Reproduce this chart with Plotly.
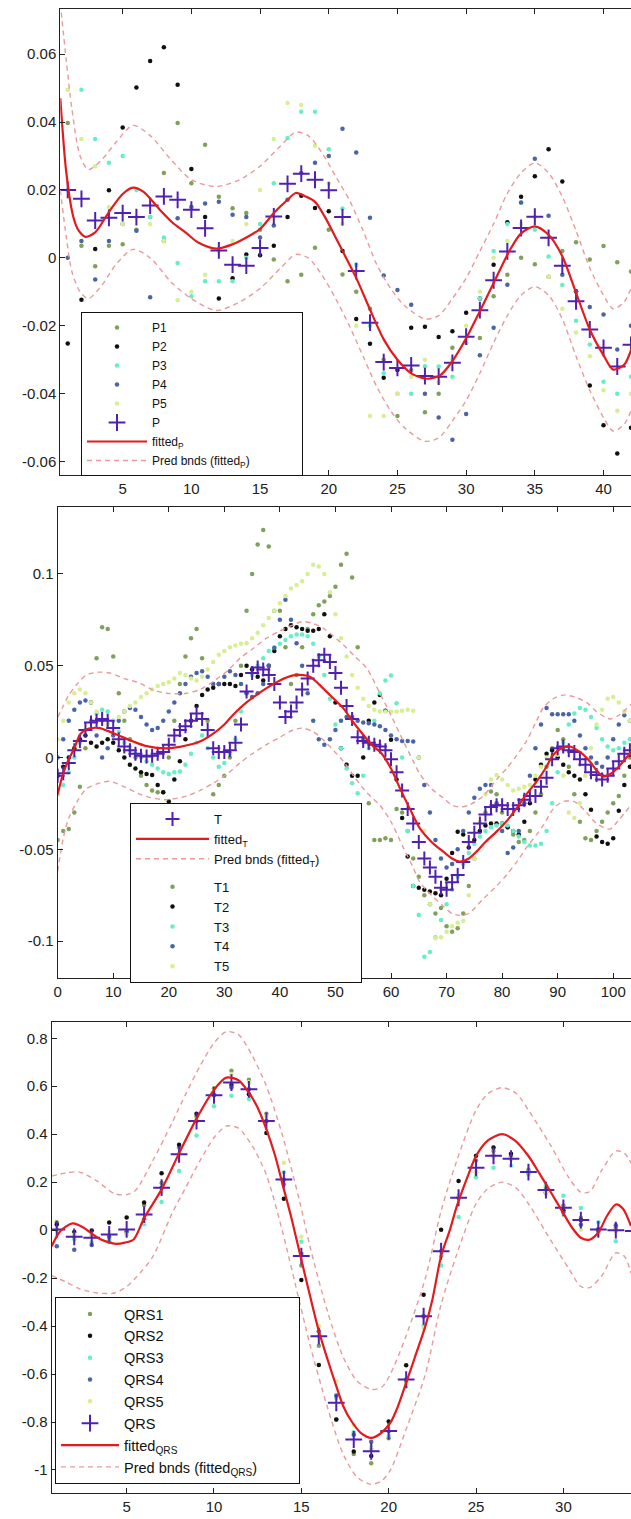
import plotly.graph_objects as go

W, H = 631, 1519

# ---------------- Panel 1 : P ----------------
P_x = list(range(1, 43))
P1 = [0.0397, 0.0036, -0.0025, 0.0036, 0.004, 0.0083, 0.012, 0.025, 0.0397, 0.022,
      0.0333, 0.018, 0.0146, 0.0132, 0.0083, -0.0005, -0.0069, -0.005, 0.003, 0.0083,
      -0.0049, -0.010, -0.015, -0.030, -0.0466, -0.033, -0.0455, -0.040, -0.0265, -0.025,
      -0.0236, -0.0113, -0.005, 0.0, -0.0019, -0.0056, 0.002, 0.0046, -0.0005, 0.0035,
      -0.0013, -0.004]
P2 = [-0.0252, -0.0123, 0.0026, 0.0199, 0.0384, 0.0502, 0.058, 0.062, 0.051, 0.0262,
      0.012, -0.012, -0.006, 0.001, 0.0008, 0.0036, 0.012, 0.0183, 0.0147, 0.0137,
      0.002, -0.018, -0.0253, -0.0353, -0.033, -0.0206, -0.0203, -0.0233, -0.0216, -0.0162,
      -0.012, -0.002, 0.0105, 0.018, 0.024, 0.032, 0.0225, -0.0098, -0.0376, -0.0493,
      -0.0576, -0.050]
P3 = [0.020, 0.0495, 0.035, 0.028, 0.030, 0.020, 0.012, 0.006, -0.0015, -0.0113,
      -0.0069, -0.0069, -0.0069, 0.0, 0.010, 0.022, 0.0353, 0.043, 0.043, 0.032,
      0.0145, -0.002, -0.020, -0.034, -0.040, -0.040, -0.0319, -0.032, -0.035, -0.025,
      -0.012, 0.002, 0.010, 0.0162, 0.0083, 0.0004, -0.008, -0.0185, -0.0255, -0.0365,
      -0.040, -0.035]
P4 = [0.0, 0.005, -0.0064, 0.005, 0.010, 0.008, -0.0116, 0.005, 0.0117, 0.015,
      0.016, 0.0165, 0.0127, 0.012, 0.006, 0.0095, 0.0171, 0.025, 0.028, 0.030,
      0.038, 0.031, 0.0118, -0.0052, -0.0095, -0.0138, -0.040, -0.047, -0.0536, -0.046,
      -0.0287, -0.0206, -0.0079, 0.0163, 0.0292, 0.0124, -0.005, -0.010, -0.0145, -0.0167,
      -0.027, -0.020]
P5 = [0.0495, 0.035, 0.027, 0.015, 0.010, 0.012, 0.010, 0.005, -0.0125, -0.010,
      -0.005, 0.002, 0.005, 0.010, 0.020, 0.035, 0.0456, 0.045, 0.033, 0.022,
      0.010, -0.020, -0.0466, -0.0466, -0.040, -0.035, -0.030, -0.0366, -0.030, -0.020,
      -0.010, 0.0, 0.005, 0.010, 0.012, -0.0056, -0.015, -0.022, -0.029, -0.039,
      -0.045, -0.040]
P_mean = [0.020, 0.0174, 0.011, 0.0118, 0.0132, 0.012, 0.0154, 0.0181, 0.0171, 0.0142,
          0.0087, 0.0022, -0.002, -0.0023, 0.0029, 0.0122, 0.0218, 0.0248, 0.023, 0.0199,
          0.012, -0.0039, -0.0191, -0.0307, -0.0324, -0.0317, -0.0348, -0.035, -0.0309, -0.0232,
          -0.0154, -0.0066, 0.0019, 0.0088, 0.0121, 0.0059, -0.0023, -0.0128, -0.0211, -0.0265,
          -0.032, -0.0256]
fitP_x = [0.46, 0.9, 1.4, 1.8, 2.3, 3.0, 4.0, 5.0, 5.75, 6.5, 7.7, 8.6, 9.6, 10.5, 11.8,
          13.0, 14.0, 15.0, 16.0, 17.0, 17.6, 18.3, 19.0, 19.7, 20.5, 21.2, 22.0, 23.0, 24.0,
          25.0, 26.0, 27.1, 28.1, 29.0, 30.0, 31.0, 32.0, 33.2, 34.0, 35.0, 36.0, 37.0, 38.0,
          39.0, 40.0, 40.7, 41.5, 42.1]
fitP_y = [0.047, 0.025, 0.0122, 0.008, 0.0062, 0.0075, 0.0135, 0.0188, 0.0207, 0.0195,
          0.0142, 0.0105, 0.0074, 0.0045, 0.0027, 0.004, 0.006, 0.0085, 0.0132, 0.0171,
          0.0191, 0.0181, 0.0165, 0.0122, 0.006, 0.0005, -0.0059, -0.0152, -0.024, -0.030,
          -0.034, -0.0356, -0.0346, -0.0304, -0.0237, -0.0157, -0.0074, 0.0024, 0.0072, 0.0093,
          0.0068, 0.0005, -0.0103, -0.0211, -0.0287, -0.0329, -0.0315, -0.026]
bndP_x = [0.46, 0.9, 1.3, 1.9, 2.5, 3.5, 4.5, 5.75, 7.0, 8.5, 10.0, 11.8, 13.5, 15.0, 16.5,
          17.6, 18.5, 19.5, 20.5, 21.5, 22.5, 23.5, 24.5, 25.5, 27.0, 28.0, 29.0, 30.0, 31.0,
          32.0, 33.0, 34.0, 35.0, 36.0, 37.0, 38.0, 39.0, 40.0, 40.7, 41.5, 42.1]
bndP_up = [0.075, 0.058, 0.044, 0.030, 0.026, 0.029, 0.034, 0.039, 0.036, 0.029, 0.023,
           0.021, 0.023, 0.027, 0.033, 0.037, 0.036, 0.031, 0.024, 0.017, 0.008, -0.002,
           -0.009, -0.014, -0.018, -0.017, -0.012, -0.006, 0.002, 0.010, 0.019, 0.025, 0.028,
           0.025, 0.018, 0.008, -0.003, -0.011, -0.015, -0.013, -0.008]
bndP_lo = [0.020, 0.006, -0.004, -0.010, -0.012, -0.008, -0.002, 0.0025, 0.0, -0.007, -0.012,
           -0.0155, -0.013, -0.009, -0.003, 0.001, 0.0, -0.005, -0.012, -0.020, -0.029, -0.038,
           -0.045, -0.050, -0.054, -0.053, -0.048, -0.042, -0.034, -0.025, -0.017, -0.011,
           -0.0085, -0.011, -0.018, -0.029, -0.039, -0.047, -0.051, -0.049, -0.044]

# ---------------- Panel 2 : T ----------------
T_x = list(range(0, 104))
T1 = [-0.045, -0.040, -0.039, -0.030, -0.016, 0.005, 0.030, 0.054, 0.071, 0.070,
      0.055, 0.035, 0.020, 0.010, 0.000, -0.010, -0.015, -0.018, -0.019, -0.019,
      0.000, 0.020, 0.040, 0.055, 0.065, 0.070, 0.054, 0.020, -0.020, -0.015,
      -0.010, 0.000, 0.020, 0.050, 0.080, 0.100, 0.116, 0.124, 0.115, 0.080,
      0.080, 0.060, 0.040, 0.045, 0.060, 0.070, 0.078, 0.083, 0.085, 0.088,
      0.093, 0.105, 0.111, 0.098, 0.060, 0.010, -0.025, -0.045, -0.045, -0.044,
      -0.045, -0.028, -0.030, -0.040, -0.055, -0.065, -0.075, -0.080, -0.085, -0.082,
      -0.092, -0.095, -0.093, -0.085, -0.070, -0.055, -0.040, -0.030, -0.0185, -0.020,
      -0.030, -0.038, -0.042, -0.046, -0.045, -0.040, -0.030, -0.020, -0.005, 0.005,
      0.015, 0.010, -0.005, -0.020, -0.035, -0.044, -0.045, -0.040, -0.035, -0.030,
      -0.025, -0.021, -0.010, 0.000]
T2 = [-0.010, -0.005, 0.000, 0.005, 0.010, 0.012, 0.008, 0.006, 0.008, 0.010,
      0.008, 0.004, 0.000, -0.004, -0.006, -0.008, -0.009, -0.0095, -0.015, -0.019,
      -0.024, -0.012, -0.002, 0.010, 0.020, 0.028, 0.034, 0.037, 0.038, 0.040,
      0.040, 0.040, 0.039, 0.045, 0.050, 0.048, 0.044, 0.042, 0.050, 0.058,
      0.066, 0.070, 0.072, 0.071, 0.070, 0.069, 0.069, 0.070, 0.078, 0.066,
      0.030, 0.005, -0.004, -0.010, -0.010, 0.000, 0.020, 0.030, 0.034, 0.0255,
      0.0096, -0.012, -0.033, -0.054, -0.070, -0.071, -0.072, -0.073, -0.074, -0.075,
      -0.066, -0.052, -0.0404, -0.042, -0.049, -0.045, -0.040, -0.037, -0.036, -0.036,
      -0.036, -0.038, -0.040, -0.042, -0.035, -0.025, -0.012, -0.004, 0.002, 0.004,
      0.000, -0.004, -0.008, -0.010, -0.012, -0.020, -0.0285, -0.043, -0.046, -0.047,
      -0.044, -0.029, -0.015, -0.005]
T3 = [-0.020, -0.015, -0.008, 0.000, 0.008, 0.015, 0.020, 0.024, 0.026, 0.025,
      0.020, 0.014, 0.008, 0.004, 0.002, 0.000, -0.002, -0.004, -0.006, -0.008,
      -0.009, -0.008, -0.0076, -0.004, 0.002, 0.008, 0.012, 0.005, 0.000, -0.005,
      -0.003, 0.002, 0.010, 0.025, 0.035, 0.045, 0.050, 0.054, 0.058, 0.060,
      0.062, 0.064, 0.066, 0.067, 0.067, 0.066, 0.062, 0.055, 0.045, 0.032,
      0.018, 0.005, -0.006, -0.014, -0.0195, -0.010, 0.005, 0.020, 0.035, 0.042,
      0.0447, 0.0296, 0.000, -0.040, -0.070, -0.0858, -0.1085, -0.106, -0.098, -0.0885,
      -0.080, -0.072, -0.065, -0.058, -0.052, -0.047, -0.043, -0.040, -0.038, -0.037,
      -0.036, -0.037, -0.040, -0.043, -0.046, -0.048, -0.048, -0.047, -0.040, -0.025,
      -0.008, 0.008, 0.018, 0.024, 0.027, 0.026, 0.022, 0.016, 0.010, 0.006,
      0.004, 0.005, 0.008, 0.010]
T4 = [0.000, 0.010, 0.020, 0.026, 0.030, 0.031, 0.030, 0.012, 0.000, 0.005,
      0.012, 0.020, 0.025, 0.027, 0.026, 0.022, 0.018, 0.015, 0.016, 0.020,
      0.025, 0.030, 0.035, 0.040, 0.044, 0.046, 0.047, 0.044, 0.040, 0.040,
      0.044, 0.047, 0.045, 0.040, 0.035, 0.033, 0.035, 0.040, 0.050, 0.0596,
      0.075, 0.086, 0.075, 0.0623, 0.050, 0.035, 0.020, 0.010, 0.007, 0.010,
      0.015, 0.020, 0.022, 0.022, 0.020, 0.019, 0.0187, 0.018, 0.017, 0.015,
      0.012, 0.010, 0.009, 0.009, 0.0087, 0.000, -0.015, -0.030, -0.045, -0.055,
      -0.060, -0.058, -0.050, -0.040, -0.030, -0.022, -0.017, -0.015, -0.015, -0.025,
      -0.040, -0.052, -0.049, -0.040, -0.025, -0.010, 0.005, 0.018, 0.027, 0.0235,
      0.0235, 0.0235, 0.0235, 0.020, 0.012, 0.005, 0.000, -0.003, -0.005, 0.000,
      0.010, 0.018, 0.023, 0.020]
T5 = [0.010, 0.020, 0.030, 0.035, 0.037, 0.035, 0.030, 0.025, 0.020, 0.018,
      0.020, 0.022, 0.025, 0.028, 0.030, 0.033, 0.035, 0.037, 0.039, 0.040,
      0.041, 0.043, 0.046, 0.045, 0.043, 0.042, 0.044, 0.048, 0.052, 0.056,
      0.058, 0.060, 0.061, 0.062, 0.0623, 0.065, 0.068, 0.072, 0.076, 0.080,
      0.084, 0.088, 0.092, 0.094, 0.096, 0.100, 0.105, 0.104, 0.100, 0.090,
      0.078, 0.065, 0.055, 0.045, 0.038, 0.032, 0.028, 0.026, 0.025, 0.025,
      0.025, 0.025, 0.0255, 0.026, 0.0255, 0.000, -0.040, -0.080, -0.0985, -0.098,
      -0.095, -0.092, -0.090, -0.089, -0.075, -0.055, -0.035, -0.020, -0.012, -0.0095,
      -0.012, -0.015, -0.018, -0.017, -0.016, -0.015, -0.010, -0.005, 0.000, 0.001,
      0.0015, -0.010, -0.030, -0.033, -0.025, -0.010, 0.005, 0.018, 0.026, 0.032,
      0.033, 0.030, 0.025, 0.020]
T_mean = [-0.010, -0.0086, -0.003, 0.004, 0.009, 0.015, 0.019, 0.020, 0.021, 0.020,
          0.016, 0.010, 0.006, 0.004, 0.002, 0.001, 0.0005, 0.001, 0.002, 0.003,
          0.007, 0.012, 0.015, 0.017, 0.020, 0.024, 0.021, 0.015, 0.005, 0.003,
          0.003, 0.004, 0.008, 0.018, 0.036, 0.046, 0.049, 0.048, 0.045, 0.040,
          0.030, 0.022, 0.025, 0.030, 0.037, 0.043, 0.050, 0.053, 0.056, 0.052,
          0.046, 0.038, 0.028, 0.021, 0.011, 0.009, 0.008, 0.007, 0.006, 0.004,
          -0.001, -0.008, -0.018, -0.028, -0.036, -0.046, -0.055, -0.060, -0.065, -0.071,
          -0.072, -0.068, -0.064, -0.057, -0.046, -0.041, -0.036, -0.031, -0.027, -0.026,
          -0.026, -0.028, -0.028, -0.026, -0.023, -0.021, -0.021, -0.016, -0.011, -0.001,
          0.005, 0.006, 0.004, 0.003, -0.001, -0.004, -0.008, -0.0095, -0.012, -0.010,
          -0.006, -0.002, 0.002, 0.004]
fitT_x = [0, 1, 2, 3, 4, 5, 6, 7.6, 9, 11, 13.6, 16, 19.6, 22, 25.6, 28, 30, 31.6, 34, 37.6,
          40, 42.4, 43.6, 45.4, 47, 49, 51.4, 53, 55, 57, 58, 60, 61.6, 63.4, 65.2, 67.3, 69.4,
          71, 72.4, 74, 75.4, 77, 79, 81, 82.6, 84.4, 86.2, 87.8, 89.2, 90.7, 92.2, 94, 95.8,
          97, 98.2, 99.5, 100.7, 101.8, 103.2]
fitT_y = [-0.020, -0.0086, -0.001, 0.005, 0.0125, 0.015, 0.016, 0.016, 0.0145, 0.012,
          0.0087, 0.0062, 0.005, 0.0058, 0.0087, 0.013, 0.018, 0.0233, 0.030, 0.0378,
          0.042, 0.0447, 0.045, 0.044, 0.040, 0.034, 0.0269, 0.020, 0.0124, 0.0055,
          0.0033, -0.006, -0.0167, -0.028, -0.0386, -0.046, -0.0513, -0.055, -0.0567, -0.055,
          -0.0513, -0.046, -0.0404, -0.034, -0.0276, -0.020, -0.0131, -0.006, 0.0015, 0.005,
          0.006, 0.003, -0.0022, -0.007, -0.0104, -0.009, -0.006, -0.0022, 0.003]
bndT_x = [0, 1, 2, 3.5, 5.2, 7.5, 9.4, 12, 14.8, 17, 19.6, 23.2, 25.6, 28, 30.5, 32.8, 35,
          37.6, 40, 42.4, 44, 46, 48, 51.4, 53.5, 55.6, 58, 60, 62.2, 64, 65.2, 67.3, 69.4,
          71, 72.4, 74, 76.6, 79, 80.8, 82.6, 84.4, 86.2, 87.4, 89.2, 91, 93, 95.2, 97, 99.4,
          101, 103.2]
bndT_up = [0.022, 0.028, 0.034, 0.040, 0.045, 0.0465, 0.046, 0.043, 0.0405, 0.037,
           0.035, 0.035, 0.037, 0.0414, 0.047, 0.054, 0.059, 0.065, 0.069, 0.0723,
           0.074, 0.073, 0.070, 0.0614, 0.055, 0.0487, 0.035, 0.023, 0.009, -0.002,
           -0.009, -0.017, -0.022, -0.026, -0.027, -0.026, -0.021, -0.012, -0.006, 0.001,
           0.009, 0.020, 0.027, 0.032, 0.034, 0.033, 0.030, 0.025, 0.021, 0.023, 0.029]
bndT_lo = [-0.062, -0.044, -0.033, -0.024, -0.017, -0.014, -0.013, -0.016, -0.020, -0.022,
           -0.023, -0.021, -0.018, -0.014, -0.009, -0.003, 0.002, 0.007, 0.011, 0.015,
           0.016, 0.014, 0.009, -0.002, -0.011, -0.019, -0.026, -0.035, -0.049, -0.060,
           -0.068, -0.075, -0.081, -0.085, -0.086, -0.085, -0.077, -0.070, -0.064, -0.057,
           -0.049, -0.042, -0.037, -0.028, -0.024, -0.024, -0.030, -0.036, -0.039, -0.034,
           -0.026]

# ---------------- Panel 3 : QRS ----------------
Q_x = list(range(1, 35))
QRS1 = [0.033, -0.028, -0.022, -0.048, -0.007, 0.105, 0.197, 0.346, 0.475, 0.592,
        0.665, 0.627, 0.485, 0.191, -0.148, -0.482, -0.79, -0.933, -0.972, -0.868,
        -0.633, -0.359, -0.108, 0.135, 0.29, 0.33, 0.308, 0.252, 0.177, 0.103,
        0.052, 0.003, 0.01, -0.004]
QRS2 = [0.023, -0.008, -0.002, 0.032, 0.053, 0.115, 0.237, 0.356, 0.485, 0.572,
        0.605, 0.567, 0.405, 0.131, -0.208, -0.562, -0.79, -0.923, -0.942, -0.798,
        -0.563, -0.269, 0.002, 0.205, 0.31, 0.345, 0.318, 0.242, 0.157, 0.083,
        0.042, 0.003, 0.0, -0.004]
QRS3 = [0.003, -0.038, -0.052, -0.038, -0.017, 0.025, 0.117, 0.246, 0.395, 0.517,
        0.56, 0.547, 0.455, 0.241, -0.048, -0.442, -0.7, -0.843, -0.912, -0.858,
        -0.653, -0.399, -0.148, 0.055, 0.22, 0.26, 0.268, 0.232, 0.187, 0.143,
        0.092, 0.033, -0.046, -0.004]
QRS4 = [-0.067, -0.082, -0.062, -0.028, -0.007, 0.045, 0.177, 0.316, 0.455, 0.562,
        0.595, 0.587, 0.455, 0.211, -0.098, -0.422, -0.69, -0.853, -0.882, -0.838,
        -0.623, -0.359, -0.088, 0.135, 0.24, 0.31, 0.298, 0.242, 0.157, 0.073,
        0.022, -0.007, 0.02, -0.004]
QRS5 = [0.003, -0.018, -0.022, -0.008, -0.017, 0.035, 0.157, 0.316, 0.465, 0.577,
        0.65, 0.617, 0.475, 0.281, -0.028, -0.40, -0.63, -0.813, -0.902, -0.828,
        -0.643, -0.409, -0.098, 0.145, 0.24, 0.31, 0.298, 0.242, 0.157, 0.063,
        0.002, -0.017, 0.0, -0.004]
QRS_mean = [0.003, -0.028, -0.032, -0.018, 0.003, 0.065, 0.177, 0.316, 0.455, 0.562,
            0.615, 0.587, 0.455, 0.211, -0.108, -0.442, -0.72, -0.873, -0.922, -0.838,
            -0.623, -0.359, -0.088, 0.135, 0.26, 0.31, 0.298, 0.242, 0.167, 0.093,
            0.042, 0.003, 0.0, -0.004]
fitQ_x = [0.71, 1.2, 1.9, 2.5, 3.0, 3.5, 4.1, 4.4, 4.9, 5.4, 6.0, 7.0, 8.0, 9.0, 10.0, 10.7,
          11.4, 12.0, 12.5, 13.0, 13.5, 13.9, 14.4, 14.9, 15.5, 16.0, 16.5, 17.0, 17.4, 17.9,
          18.4, 19.0, 19.5, 20.1, 20.5, 21.0, 21.5, 22.1, 22.5, 23.0, 23.5, 23.9, 24.5, 25.0,
          25.7, 26.5, 27.2, 28.0, 28.6, 29.3, 30.0, 30.5, 31.0, 31.5, 32.0, 32.5, 33.0, 33.4,
          33.87]
fitQ_y = [-0.067, -0.005, 0.028, 0.012, -0.015, -0.038, -0.053, -0.057, -0.052, -0.039,
          0.05, 0.17, 0.32, 0.465, 0.585, 0.636, 0.625, 0.573, 0.51, 0.42,
          0.31, 0.198, 0.06, -0.093, -0.275, -0.42, -0.539, -0.65, -0.734, -0.80,
          -0.845, -0.866, -0.85, -0.803, -0.74, -0.636, -0.53, -0.40, -0.29, -0.108,
          0.0, 0.10, 0.22, 0.309, 0.375, 0.40, 0.375, 0.309, 0.24, 0.156,
          0.07, 0.01, -0.032, -0.04, -0.01, 0.06, 0.107, 0.09, 0.017]
bndQ_x = [0.71, 1.5, 2.3, 3.3, 4.3, 5.0, 5.5, 6.5, 7.6, 8.4, 9.2, 10.0, 10.7, 11.4, 12.2,
          13.0, 13.9, 14.9, 15.5, 16.5, 17.4, 18.2, 19.0, 19.6, 20.1, 21.0, 22.1, 23.0, 23.9,
          25.0, 25.7, 26.5, 27.3, 28.0, 29.3, 30.3, 31.0, 31.5, 32.2, 33.0, 33.5, 33.87]
bndQ_up = [0.225, 0.238, 0.242, 0.205, 0.152, 0.148, 0.165, 0.29, 0.448, 0.57, 0.684, 0.78,
           0.827, 0.815, 0.726, 0.60, 0.40, 0.12, -0.07, -0.34, -0.53, -0.63, -0.664, -0.655,
           -0.60, -0.44, -0.20, 0.08, 0.29, 0.50, 0.57, 0.594, 0.57, 0.50, 0.35, 0.22, 0.158,
           0.16, 0.25, 0.33, 0.32, 0.28]
bndQ_lo = [-0.19, -0.215, -0.245, -0.262, -0.262, -0.235, -0.20, -0.11, 0.07, 0.18, 0.29,
           0.385, 0.434, 0.425, 0.35, 0.23, 0.0, -0.30, -0.48, -0.74, -0.935, -1.03, -1.06,
           -1.045, -1.0, -0.83, -0.60, -0.31, -0.10, 0.11, 0.175, 0.20, 0.175, 0.11, -0.045,
           -0.16, -0.235, -0.24, -0.19, -0.095, -0.11, -0.18]

for a, b in [(P_x, P1), (P_x, P2), (P_x, P3), (P_x, P4), (P_x, P5), (P_x, P_mean),
             (fitP_x, fitP_y), (bndP_x, bndP_up), (bndP_x, bndP_lo),
             (T_x, T1), (T_x, T2), (T_x, T3), (T_x, T4), (T_x, T5), (T_x, T_mean),
             (fitT_x, fitT_y), (bndT_x, bndT_up), (bndT_x, bndT_lo),
             (Q_x, QRS1), (Q_x, QRS2), (Q_x, QRS3), (Q_x, QRS4), (Q_x, QRS5), (Q_x, QRS_mean),
             (fitQ_x, fitQ_y), (bndQ_x, bndQ_up), (bndQ_x, bndQ_lo)]:
    assert len(a) == len(b), (len(a), len(b))

# ---------------- styles ----------------
C_DOT = ['#80a05c', '#101010', '#66eec6', '#4a64a6', '#d6ef92']
C_MEAN = '#5020b0'
C_FIT = '#e41a1c'
C_BND = '#e99a9a'
FONT = 'Liberation Sans'
NB = '\u00a0'

fig = go.Figure()


def add_panel(xa, ya, lg, xs, series, names, mean, mean_name, fx, fy, bx, bup, blo,
              fit_name, bnd_name, plus_size, mean_first=False):
    for i, (s, n) in enumerate(zip(series, names)):
        fig.add_trace(go.Scatter(
            x=xs, y=s, mode='markers', name=n, xaxis=xa, yaxis=ya, legend=lg,
            legendrank=(5 + i + 1) if mean_first else (i + 1),
            legendgroup=(lg + 'b') if mean_first else None,
            marker=dict(color=C_DOT[i], size=4.5), hoverinfo='skip'))
    r0 = 0 if mean_first else 5
    grp = (lg + 'a') if mean_first else None
    fig.add_trace(go.Scatter(
        x=xs, y=mean, mode='markers', name=mean_name, xaxis=xa, yaxis=ya, legend=lg,
        legendrank=r0 + 1, legendgroup=grp,
        marker=dict(symbol='cross-thin', size=plus_size, color=C_MEAN,
                    line=dict(width=2, color=C_MEAN)), hoverinfo='skip'))
    fig.add_trace(go.Scatter(
        x=fx, y=fy, mode='lines', name=fit_name, xaxis=xa, yaxis=ya, legend=lg,
        legendrank=r0 + 2, legendgroup=grp,
        line=dict(color=C_FIT, width=2.2, shape='spline', smoothing=0.8), hoverinfo='skip'))
    fig.add_trace(go.Scatter(
        x=bx, y=bup, mode='lines', name=bnd_name, xaxis=xa, yaxis=ya, legend=lg,
        legendrank=r0 + 3, legendgroup=grp,
        line=dict(color=C_BND, width=1.4, dash='5px,4px', shape='spline', smoothing=0.8),
        hoverinfo='skip'))
    fig.add_trace(go.Scatter(
        x=bx, y=blo, mode='lines', name=bnd_name, xaxis=xa, yaxis=ya, legend=lg,
        showlegend=False, legendgroup=grp,
        line=dict(color=C_BND, width=1.4, dash='5px,4px', shape='spline', smoothing=0.8),
        hoverinfo='skip'))


add_panel('x', 'y', 'legend', P_x, [P1, P2, P3, P4, P5], ['P1', 'P2', 'P3', 'P4', 'P5'],
          P_mean, 'P', fitP_x, fitP_y, bndP_x, bndP_up, bndP_lo,
          'fitted<sub>P</sub>', 'Pred bnds (fitted<sub>P</sub>)' + NB * 14, 12)
add_panel('x2', 'y2', 'legend2', T_x, [T1, T2, T3, T4, T5], ['T1', 'T2', 'T3', 'T4', 'T5'],
          T_mean, 'T', fitT_x, fitT_y, bndT_x, bndT_up, bndT_lo,
          'fitted<sub>T</sub>', 'Pred bnds (fitted<sub>T</sub>)' + NB * 10, 10, mean_first=True)
add_panel('x3', 'y3', 'legend3', Q_x, [QRS1, QRS2, QRS3, QRS4, QRS5],
          ['QRS1', 'QRS2', 'QRS3', 'QRS4', 'QRS5'],
          QRS_mean, 'QRS', fitQ_x, fitQ_y, bndQ_x, bndQ_up, bndQ_lo,
          'fitted<sub>QRS</sub>', 'Pred bnds (fitted<sub>QRS</sub>)' + NB * 9, 12)

AX = '#222222'
TICKFONT = dict(family=FONT, size=15, color=AX)


def xaxis(left_px, rng, ticks, anchor):
    return dict(domain=[left_px / W, 1], range=rng, anchor=anchor,
                tickmode='array', tickvals=ticks, ticktext=[str(t) for t in ticks],
                ticks='inside', ticklen=5, tickwidth=1, tickcolor=AX,
                showline=True, linecolor=AX, linewidth=1, mirror='allticks',
                showgrid=False, zeroline=False, tickfont=TICKFONT, automargin=False)


def yaxis(top_px, bot_px, rng, ticks, labels, anchor):
    return dict(domain=[1 - bot_px / H, 1 - top_px / H], range=rng, anchor=anchor,
                tickmode='array', tickvals=ticks, ticktext=labels,
                ticks='inside', ticklen=5, tickwidth=1, tickcolor=AX,
                showline=True, linecolor=AX, linewidth=1, mirror=False,
                showgrid=False, zeroline=False, tickfont=TICKFONT, automargin=False)


def legend(x_px, y_px, size, itemw, gap=0):
    return dict(x=x_px / W, y=1 - y_px / H, xanchor='left', yanchor='top',
                bgcolor='white', bordercolor='#111111', borderwidth=1,
                font=dict(family=FONT, size=size, color='#111111'),
                itemwidth=itemw, tracegroupgap=gap,
                traceorder='grouped' if gap else 'normal')


fig.update_layout(
    width=W, height=H, margin=dict(l=0, r=0, t=0, b=0),
    paper_bgcolor='white', plot_bgcolor='white', hovermode=False,
    font=dict(family=FONT, size=13, color=AX),
    xaxis=xaxis(60.3, [0.46, 42.0], [5, 10, 15, 20, 25, 30, 35, 40], 'y'),
    yaxis=yaxis(9.3, 474.5, [-0.0638, 0.0732],
                [-0.06, -0.04, -0.02, 0, 0.02, 0.04, 0.06],
                ['-0.06', '-0.04', '-0.02', '0', '0.02', '0.04', '0.06'], 'x'),
    xaxis2=xaxis(57.5, [-0.03, 103.2], [0, 10, 20, 30, 40, 50, 60, 70, 80, 90, 100], 'y2'),
    yaxis2=yaxis(507.3, 978.3, [-0.1203, 0.1363], [-0.1, -0.05, 0, 0.05, 0.1],
                 ['-0.1', '-0.05', '0', '0.05', '0.1'], 'x2'),
    xaxis3=xaxis(51.7, [0.71, 33.87], [5, 10, 15, 20, 25, 30], 'y3'),
    yaxis3=yaxis(1021.7, 1493, [-1.096, 0.869],
                 [-1, -0.8, -0.6, -0.4, -0.2, 0, 0.2, 0.4, 0.6, 0.8],
                 ['-1', '-0.8', '-0.6', '-0.4', '-0.2', '0', '0.2', '0.4', '0.6', '0.8'], 'x3'),
    legend=legend(81, 312, 12, 60),
    legend2=legend(130, 803, 13, 73, gap=8),
    legend3=legend(55, 1297, 14.5, 58),
)

fig.write_html('out.html')
